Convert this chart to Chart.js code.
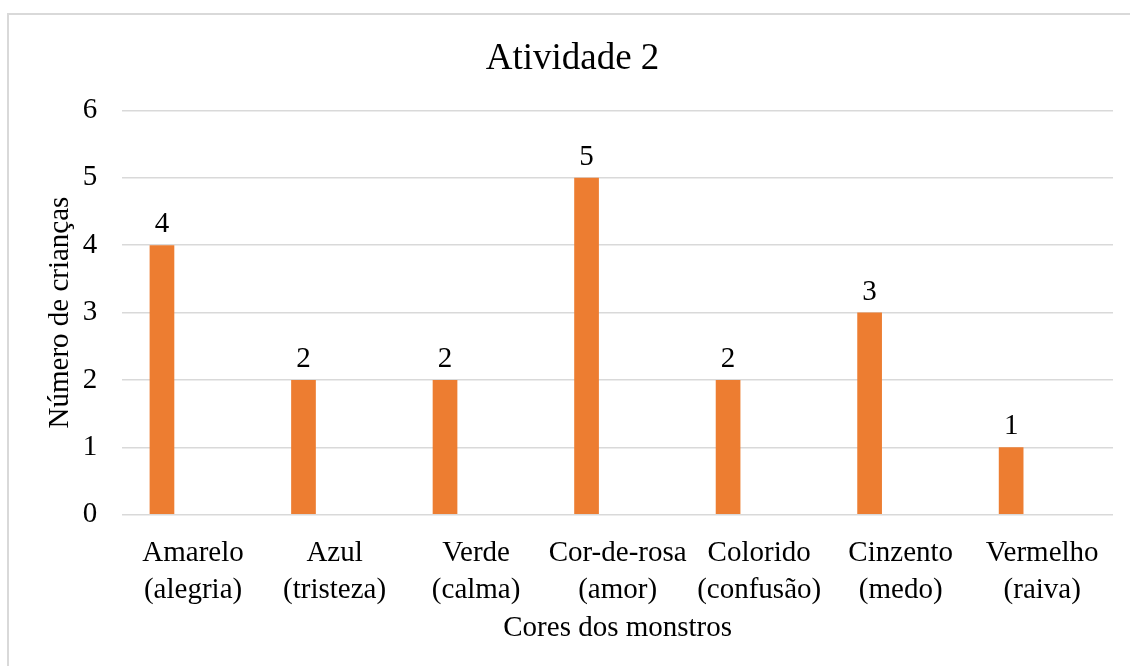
<!DOCTYPE html>
<html>
<head>
<meta charset="utf-8">
<script src="https://cdn.jsdelivr.net/npm/chart.js@4"></script>
<style>
  html, body { margin: 0; padding: 0; background: #fff; overflow: hidden; }
  #frame {
    position: absolute; left: 7px; top: 13px;
    width: 1140px; height: 670px;
    border-left: 2px solid #d9d9d9; border-top: 2px solid #d9d9d9;
  }
</style>
</head>
<body>
<div id="frame"><canvas id="chart" width="1121" height="651"></canvas></div>
<script>
const categories = [
  ['Amarelo', '(alegria)'],
  ['Azul', '(tristeza)'],
  ['Verde', '(calma)'],
  ['Cor-de-rosa', '(amor)'],
  ['Colorido', '(confusão)'],
  ['Cinzento', '(medo)'],
  ['Vermelho', '(raiva)']
];
const criancas = [4, 2, 2, 5, 2, 3, 1];
const yTicks = [0, 1, 2, 3, 4, 5, 6];

const serif = '"Liberation Serif", "Times New Roman", serif';

// value labels above each bar
const valueLabels = {
  id: 'valueLabels',
  afterDatasetsDraw(chart) {
    const ctx = chart.ctx;
    const meta = chart.getDatasetMeta(0);
    ctx.save();
    ctx.font = '29px ' + serif;
    ctx.fillStyle = '#000';
    ctx.textAlign = 'center';
    ctx.textBaseline = 'alphabetic';
    meta.data.forEach((bar, i) => {
      ctx.fillText(criancas[i], bar.x, bar.y - 13);
    });
    ctx.restore();
  }
};

new Chart(document.getElementById('chart'), {
  type: 'bar',
  data: {
    labels: categories,
    datasets: [
      {
        label: 'Número de crianças',
        data: criancas,
        backgroundColor: '#ED7D31',
        categoryPercentage: 0.879,
        barPercentage: 0.397
      },
      {
        label: '',
        data: [],
        backgroundColor: '#A5A5A5',
        categoryPercentage: 0.879,
        barPercentage: 0.397
      }
    ]
  },
  options: {
    responsive: false,
    animation: false,
    layout: { padding: { left: 23, right: 17, top: 0, bottom: 12 } },
    plugins: {
      legend: { display: false },
      tooltip: { enabled: false },
      title: {
        display: true,
        text: 'Atividade 2',
        color: '#000',
        font: { family: serif, size: 37, weight: 'normal' },
        padding: { top: 22, bottom: 29 }
      }
    },
    scales: {
      x: {
        grid: { display: false, drawTicks: false },
        border: { display: false },
        ticks: {
          color: '#000',
          font: { family: serif, size: 29, lineHeight: 1.25 },
          padding: 21,
          maxRotation: 0,
          autoSkip: false
        },
        title: {
          display: true,
          text: 'Cores dos monstros',
          color: '#000',
          font: { family: serif, size: 29 },
          padding: { top: -18, bottom: 8 }
        }
      },
      y: {
        min: yTicks[0],
        max: yTicks[yTicks.length - 1],
        grid: { color: '#d9d9d9', lineWidth: 1.5, drawTicks: false },
        border: { display: false },
        ticks: {
          stepSize: 1,
          color: '#000',
          font: { family: serif, size: 29 },
          padding: 25
        },
        title: {
          display: true,
          text: 'Número de crianças',
          color: '#000',
          font: { family: serif, size: 29 },
          padding: { top: 11, bottom: -20 }
        }
      }
    }
  },
  plugins: [valueLabels]
});
</script>
</body>
</html>
